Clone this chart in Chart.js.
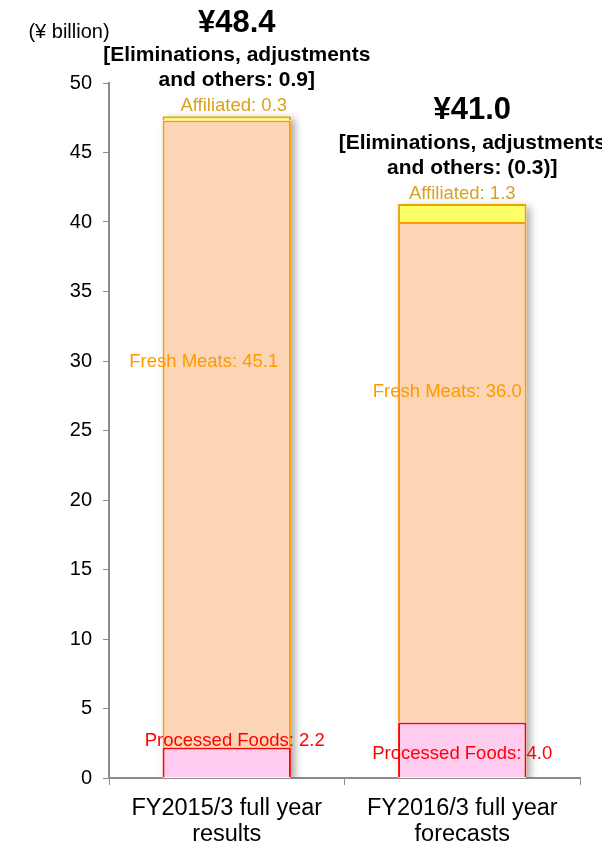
<!DOCTYPE html>
<html lang="en">
<head>
  <meta charset="UTF-8">
  <title>Operating income by segment</title>
  <script src="https://cdn.jsdelivr.net/npm/chart.js"></script>
  <style>
    html, body { margin: 0; padding: 0; background: #fff; }
    #wrap { width: 602px; height: 844px; }
  </style>
</head>
<body>
  <div id="wrap"><canvas id="segChart" width="602" height="844"></canvas></div>

  <script>
    // values in ¥ billion
    const categories     = [['FY2015/3 full year', 'results'], ['FY2016/3 full year', 'forecasts']];
    const processedFoods = [2.2, 4.0];
    const freshMeats     = [45.1, 36.0];
    const affiliated     = [0.3, 1.3];
    const totals         = [48.4, 41.0];
    const eliminations   = ['0.9', '(0.3)'];
    const yMax = 50, yStep = 5;

    const FONT = "'Liberation Sans', Arial, sans-serif";
    const AXIS_GREY = '#8c8c8c';

    // soft grey shadow behind each stacked column
    const barShadow = {
      id: 'barShadow',
      beforeDatasetsDraw(chart) {
        const { ctx, chartArea, scales: { y } } = chart;
        const topMeta = chart.getDatasetMeta(chart.data.datasets.length - 1);
        ctx.save();
        ctx.beginPath();
        ctx.rect(chartArea.left, chartArea.top, chartArea.width + 20, chartArea.height);
        ctx.clip();
        ctx.shadowColor = 'rgba(0,0,0,0.35)';
        ctx.shadowBlur = 8;
        ctx.shadowOffsetX = 4;
        ctx.shadowOffsetY = 3;
        ctx.fillStyle = '#fff';
        topMeta.data.forEach(bar => {
          const w = bar.width;
          ctx.fillRect(bar.x - w / 2, bar.y, w, y.getPixelForValue(0) - bar.y);
        });
        ctx.restore();
      }
    };

    // segment labels, totals and the unit caption
    const textLabels = {
      id: 'textLabels',
      afterDatasetsDraw(chart) {
        const { ctx, chartArea, scales: { x, y } } = chart;
        const topMeta = chart.getDatasetMeta(chart.data.datasets.length - 1);
        ctx.save();
        ctx.textAlign = 'center';
        ctx.textBaseline = 'middle';

        // where each segment label sits: x shift from column centre, y in data units
        const seg = [
          { vals: processedFoods, name: 'Processed Foods', color: '#ff0000', dx: [8, 0],   at: [2.7, 1.7] },
          { vals: freshMeats,     name: 'Fresh Meats',     color: '#ff9900', dx: [-23, -15], at: [29.9, 27.8] }
        ];
        ctx.font = `18.5px ${FONT}`;
        seg.forEach(s => {
          ctx.fillStyle = s.color;
          s.vals.forEach((v, i) => {
            ctx.fillText(`${s.name}: ${v.toFixed(1)}`,
              x.getPixelForValue(i) + s.dx[i], y.getPixelForValue(s.at[i]));
          });
        });

        topMeta.data.forEach((bar, i) => {
          const cx = bar.x;
          const top = bar.y;
          ctx.font = `18.5px ${FONT}`;
          ctx.fillStyle = '#d9a21b';
          ctx.fillText(`Affiliated: ${affiliated[i].toFixed(1)}`, cx + (i === 0 ? 7 : 0), top - 10);

          ctx.fillStyle = '#000';
          ctx.font = `bold 21px ${FONT}`;
          ctx.fillText('[Eliminations, adjustments', cx + 10, top - 61);
          ctx.fillText(`and others: ${eliminations[i]}]`, cx + 10, top - 36);
          ctx.font = `bold 31px ${FONT}`;
          ctx.fillText(`¥${totals[i].toFixed(1)}`, cx + 10, top - 93);
        });

        ctx.font = `20px ${FONT}`;
        ctx.fillStyle = '#000';
        ctx.fillText('(¥ billion)', chartArea.left - 40, chartArea.top - 51);
        ctx.restore();
      }
    };

    new Chart(document.getElementById('segChart'), {
      type: 'bar',
      data: {
        labels: categories,
        datasets: [
          { label: 'Processed Foods', data: processedFoods,
            backgroundColor: '#ffccef', borderColor: '#ff0000', borderWidth: 2 },
          { label: 'Fresh Meats', data: freshMeats,
            backgroundColor: '#fbd5b5', borderColor: '#ff9900', borderWidth: 2 },
          { label: 'Affiliated', data: affiliated,
            backgroundColor: '#ffff66', borderColor: '#e0a800', borderWidth: 2 }
        ]
      },
      options: {
        responsive: false,
        animation: false,
        layout: { padding: { top: 83, right: 22, left: 0, bottom: 0 } },
        datasets: { bar: { barPercentage: 0.545, categoryPercentage: 1 } },
        plugins: { legend: { display: false }, tooltip: { enabled: false } },
        scales: {
          x: {
            stacked: true,
            offset: true,
            grid: { offset: true, drawOnChartArea: false, drawTicks: true, tickLength: 7, color: AXIS_GREY },
            border: { color: AXIS_GREY, width: 2 },
            ticks: { color: '#000', font: { family: FONT, size: 23.5, lineHeight: 1.1 }, padding: 11, maxRotation: 0 },
            afterFit(scale) { scale.height = 66; }
          },
          y: {
            stacked: true,
            min: 0, max: yMax,
            grid: { drawOnChartArea: false, drawTicks: true, tickLength: 6, color: AXIS_GREY },
            border: { color: AXIS_GREY, width: 2 },
            ticks: { stepSize: yStep, color: '#000', font: { family: FONT, size: 20 }, padding: 11 },
            afterFit(scale) { scale.width = 109; }
          }
        }
      },
      plugins: [barShadow, textLabels]
    });
  </script>
</body>
</html>
